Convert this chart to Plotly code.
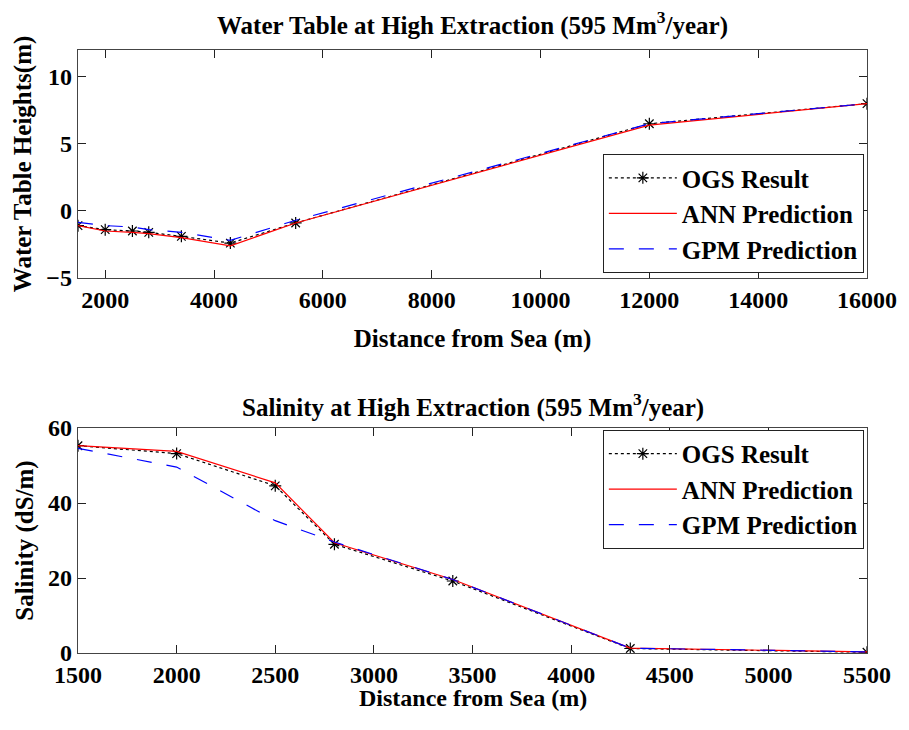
import plotly.graph_objects as go

# Water table data
wt_x = [1500, 2000, 2500, 2800, 3400, 4300, 5500, 12000, 16000]
wt_ogs = [-1.1, -1.4, -1.5, -1.6, -1.9, -2.4, -0.9, 6.5, 8.0]
wt_ann = [-1.1, -1.5, -1.6, -1.7, -2.0, -2.6, -0.9, 6.4, 8.0]
wt_gpm = [-0.85, -1.1, -1.2, -1.4, -1.6, -2.2, -0.7, 6.5, 8.0]

# Salinity data
sal_x = [1500, 2000, 2500, 2800, 3400, 4300, 5500]
sal_ogs = [55.3, 53.2, 44.6, 29.0, 19.2, 1.2, 0.2]
sal_ann = [55.3, 53.8, 45.4, 29.4, 19.6, 1.3, 0.3]
sal_gpm = [54.6, 49.6, 35.3, 29.6, 19.6, 1.3, 0.3]

top_xticks = [2000, 4000, 6000, 8000, 10000, 12000, 14000, 16000]
top_xlabels = ["2000", "4000", "6000", "8000", "10000", "12000", "14000", "16000"]
top_yticks = [-5, 0, 5, 10]
bot_xticks = [1500, 2000, 2500, 3000, 3500, 4000, 4500, 5000, 5500]
bot_xlabels = [str(v) for v in bot_xticks]
bot_yticks = [0, 20, 40, 60]

FONT = "Liberation Serif, Times New Roman, serif"
TICK_SIZE = 24
TITLE_SIZE = 25
AX_TITLE_SIZE = 25
LEG_SIZE = 25

fig = go.Figure()

def add_series(x, ogs, ann, gpm, xa, ya, leg):
    fig.add_trace(go.Scatter(x=x, y=ogs, mode="lines+markers", name="OGS Result",
                             line=dict(color="black", width=1.2, dash="dot"),
                             marker=dict(symbol="asterisk-open", size=10, color="black",
                                         line=dict(color="black", width=1.2)),
                             xaxis=xa, yaxis=ya, legend=leg))
    fig.add_trace(go.Scatter(x=x, y=ann, mode="lines", name="ANN Prediction",
                             line=dict(color="#ff0000", width=1.2),
                             xaxis=xa, yaxis=ya, legend=leg))
    fig.add_trace(go.Scatter(x=x, y=gpm, mode="lines", name="GPM Prediction",
                             line=dict(color="#0000ff", width=1.2, dash="longdash"),
                             xaxis=xa, yaxis=ya, legend=leg))

add_series(wt_x, wt_ogs, wt_ann, wt_gpm, "x", "y", "legend")
add_series(sal_x, sal_ogs, sal_ann, sal_gpm, "x2", "y2", "legend2")

axis_common = dict(showline=True, mirror="ticks", linecolor="#444444", linewidth=1.3,
                   ticks="inside", ticklen=8, tickcolor="#222222", showgrid=False,
                   zeroline=False,
                   tickfont=dict(family=FONT, size=TICK_SIZE, color="black", weight="bold"))

title_font = dict(family=FONT, size=AX_TITLE_SIZE, color="black", weight="bold")

legend_common = dict(bgcolor="white", bordercolor="#222222", borderwidth=1,
                     font=dict(family=FONT, size=LEG_SIZE, color="black", weight="bold"),
                     tracegroupgap=0, itemwidth=68)

fig.update_layout(
    width=901, height=714,
    paper_bgcolor="white", plot_bgcolor="white",
    margin=dict(l=70, r=35, t=42, b=69),
    showlegend=True,
    xaxis=dict(domain=[0, 1], range=[1500, 16000], tickvals=top_xticks, ticktext=top_xlabels,
               anchor="y", title=dict(text="Distance from Sea (m)", standoff=17, font=title_font),
               **axis_common),
    yaxis=dict(domain=[0.622, 1.0], range=[-5, 12], tickvals=top_yticks, anchor="x",
               title=dict(text="Water Table Heights(m)", standoff=7, font=title_font),
               **axis_common),
    xaxis2=dict(domain=[0, 1], range=[1500, 5500], tickvals=bot_xticks, ticktext=bot_xlabels,
                anchor="y2", **axis_common),
    yaxis2=dict(domain=[0, 0.373], range=[0, 60], tickvals=bot_yticks, anchor="x2",
                title=dict(text="Salinity (dS/m)", standoff=7, font=title_font),
                **axis_common),
    legend=dict(x=0.996, xanchor="right", y=0.630, yanchor="bottom", **legend_common),
    legend2=dict(x=0.996, xanchor="right", y=0.370, yanchor="top", **legend_common),
    annotations=[
        dict(text="Water Table at High Extraction (595 Mm<sup>3</sup>/year)",
             x=0.5, xref="paper", y=1.0, yref="paper", yshift=27, yanchor="middle",
             showarrow=False, font=dict(family=FONT, size=TITLE_SIZE, color="black", weight="bold")),
        dict(text="Salinity at High Extraction (595 Mm<sup>3</sup>/year)",
             x=0.5, xref="paper", y=0.373, yref="paper", yshift=23, yanchor="middle",
             showarrow=False, font=dict(family=FONT, size=TITLE_SIZE, color="black", weight="bold")),
        dict(text="Distance from Sea (m)",
             x=0.5, xref="paper", y=0.0, yref="paper", yshift=-45, yanchor="middle",
             showarrow=False, font=dict(family=FONT, size=24, color="black", weight="bold")),
    ],
)

fig.write_html("out.html")
